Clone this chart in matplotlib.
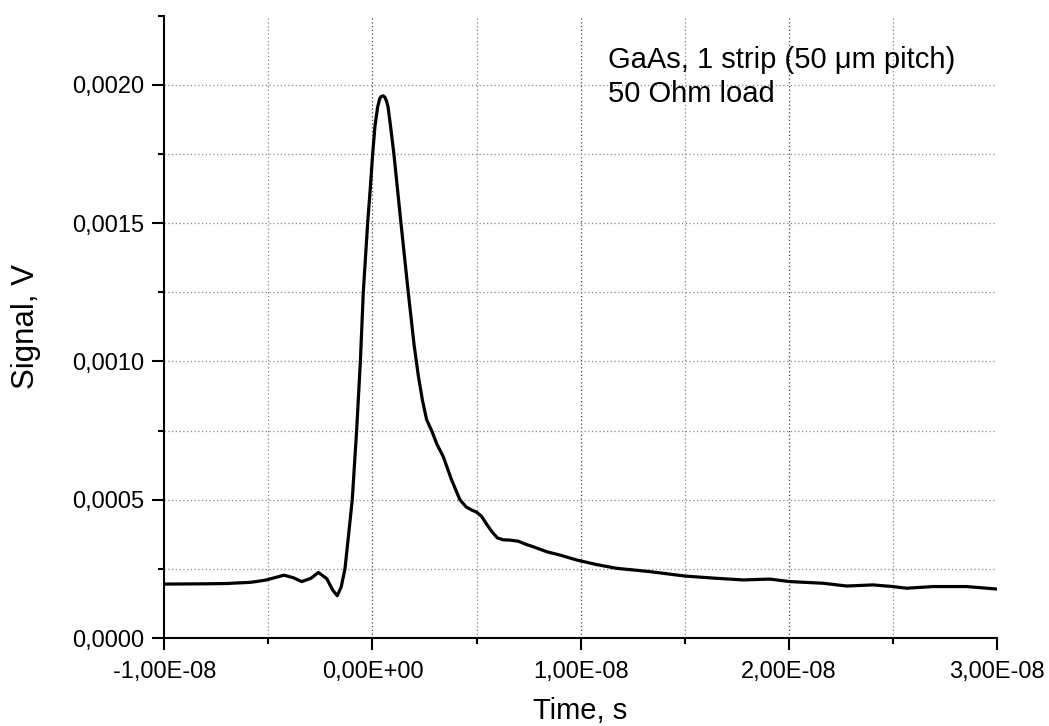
import matplotlib.pyplot as plt
from matplotlib.ticker import FuncFormatter, MultipleLocator
import numpy as np

# signal: time in ns, signal in V
time_ns = [-10.0, -8.0, -7.0, -6.5, -5.9, -5.5, -5.1, -4.6, -4.25, -3.8, -3.4,
           -2.95, -2.6, -2.2, -1.9, -1.69, -1.5, -1.32, -1.15, -0.97, -0.76,
           -0.58, -0.44, -0.23, -0.1, 0.01, 0.12, 0.25, 0.35, 0.42, 0.52, 0.6,
           0.68, 0.75, 0.87, 1.03, 1.37, 1.72, 2.0, 2.2, 2.4, 2.6, 2.84, 3.1,
           3.4, 3.8, 4.2, 4.5, 4.76, 5.0, 5.24, 5.5, 5.73, 6.0, 6.28, 6.6, 7.0,
           7.4, 7.72, 8.37, 9.0, 9.81, 10.8, 11.73, 13.33, 15.01, 16.5, 17.81,
           19.09, 20.05, 21.64, 22.78, 24.04, 25.0, 25.66, 26.92, 28.54, 30.0]
signal_v = [0.000195, 0.000196, 0.000197, 0.000199, 0.000201, 0.000205,
            0.000210, 0.000220, 0.000227, 0.000218, 0.000204, 0.000216,
            0.000237, 0.000215, 0.000172, 0.000153, 0.000185, 0.000250,
            0.000370, 0.000500, 0.000750, 0.001000, 0.001250, 0.001500,
            0.001630, 0.001750, 0.001850, 0.001920, 0.001950, 0.001958,
            0.001960, 0.001955, 0.001940, 0.001920, 0.001850, 0.001750,
            0.001500, 0.001250, 0.001060, 0.000950, 0.000860, 0.000790,
            0.000750, 0.000700, 0.000656, 0.000572, 0.000500, 0.000474,
            0.000463, 0.000455, 0.000440, 0.000410, 0.000385, 0.000362,
            0.000355, 0.000354, 0.000350, 0.000338, 0.000330, 0.000312,
            0.000300, 0.000282, 0.000265, 0.000252, 0.000240, 0.000224,
            0.000216, 0.000210, 0.000213, 0.000204, 0.000198, 0.000188,
            0.000192, 0.000186, 0.000180, 0.000186, 0.000186, 0.000177]

plt.rcParams['font.family'] = ['Liberation Sans', 'DejaVu Sans']

fig = plt.figure(figsize=(10.49, 7.26), dpi=100)
ax = fig.add_axes([0.1566, 0.1212, 0.7938, 0.8572])

t = np.array(time_ns) * 1e-9
ax.plot(t, signal_v, color='black', lw=2.3, solid_joinstyle='round',
        solid_capstyle='round', zorder=3)

ax.set_xlim(-1e-8, 3e-8)
ax.set_ylim(0, 0.00225)

ax.xaxis.set_major_locator(MultipleLocator(1e-8))
ax.xaxis.set_minor_locator(MultipleLocator(0.5e-8))
ax.yaxis.set_major_locator(MultipleLocator(0.0005))
ax.yaxis.set_minor_locator(MultipleLocator(0.00025))

ax.xaxis.set_major_formatter(FuncFormatter(lambda v, p: f'{v:.2E}'.replace('.', ',')))
ax.yaxis.set_major_formatter(FuncFormatter(lambda v, p: f'{v:.4f}'.replace('.', ',')))

ax.spines['top'].set_visible(False)
ax.spines['right'].set_visible(False)
ax.spines['left'].set_linewidth(1.5)
ax.spines['bottom'].set_linewidth(1.5)

ax.tick_params(which='major', direction='out', length=8.5, width=1.5,
               labelsize=17, pad=6)
ax.tick_params(axis='x', which='major', pad=8)
ax.tick_params(which='minor', direction='out', length=4.5, width=1.5)

# dotted grid inside the plot only (none on the edges)
x0, x1 = ax.get_xlim()
y0, y1 = ax.get_ylim()
eps_x = (x1 - x0) * 1e-6
eps_y = (y1 - y0) * 1e-6
for loc in ax.xaxis.get_majorticklocs():
    if x0 + eps_x < loc < x1 - eps_x:
        ax.axvline(loc, ls=(0, (1, 2)), color='#444444', lw=0.9, zorder=1)
for loc in ax.xaxis.get_minorticklocs():
    if x0 + eps_x < loc < x1 - eps_x:
        ax.axvline(loc, ls=(0, (1, 2)), color='#888888', lw=0.9, zorder=1)
for loc in list(ax.yaxis.get_majorticklocs()) + list(ax.yaxis.get_minorticklocs()):
    if y0 + eps_y < loc < y1 - eps_y:
        ax.axhline(loc, ls=(0, (1, 2)), color='#888888', lw=0.9, zorder=1)

ax.set_xlabel('Time, s', fontsize=21, labelpad=10)
ax.set_ylabel('Signal, V', fontsize=22.5, labelpad=22)

ax.text(1.13e-8, 0.00214, 'GaAs, 1 strip (50 μm pitch)\n50 Ohm load',
        fontsize=21, va='top', ha='left', linespacing=1.25, zorder=4)

fig.savefig('out.png', dpi=100)
